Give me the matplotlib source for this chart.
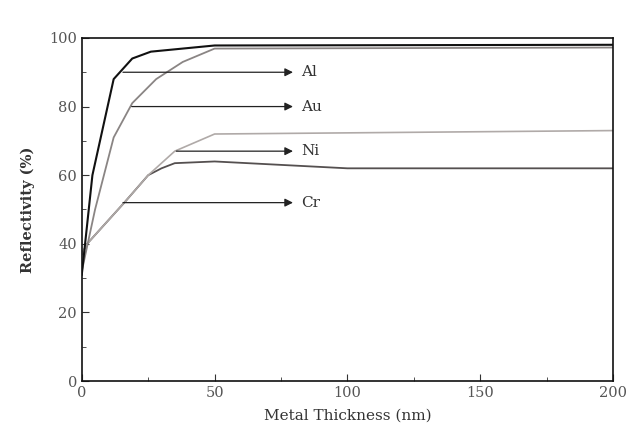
import matplotlib
matplotlib.use('Agg')
import matplotlib.pyplot as plt
from matplotlib.ticker import MultipleLocator

plt.rcParams['font.family'] = 'DejaVu Serif'

# thickness (nm) / reflectivity (%)
al_x = [0, 4, 12, 19, 26, 50, 200]
al_y = [31, 60, 88, 94, 96, 97.8, 98]
au_x = [0, 5, 12, 19, 28, 38, 50, 200]
au_y = [32, 50, 71, 81, 88, 93, 96.9, 97.2]
ni_x = [0, 2, 16, 25, 35, 50, 200]
ni_y = [37, 40, 52, 60, 67, 72, 73]
cr_x = [0, 2, 16, 25, 30, 35, 50, 100, 200]
cr_y = [37, 40, 52, 60, 62, 63.5, 64, 62, 62]

labels = ['Al', 'Au', 'Ni', 'Cr']
arrow_start = [(15.5, 90), (18.8, 80), (35.6, 67), (15.5, 52)]
arrow_end = 79.5

fig = plt.figure(figsize=(6.34, 4.36), dpi=100)
ax = fig.add_axes([0.129, 0.126, 0.838, 0.787])

ax.plot(cr_x, cr_y, color='#555050', lw=1.3)
ax.plot(ni_x, ni_y, color='#b0aaa8', lw=1.2)
ax.plot(au_x, au_y, color='#8a8584', lw=1.3)
ax.plot(al_x, al_y, color='#111111', lw=1.5)

for lab, (x0, y0) in zip(labels, arrow_start):
    ax.annotate('', xy=(arrow_end, y0), xytext=(x0, y0),
                arrowprops=dict(arrowstyle='-|>', color='#222222', lw=0.9,
                                mutation_scale=12, shrinkA=0, shrinkB=0))
    ax.text(arrow_end + 3, y0, lab, fontsize=11, va='center', ha='left', color='#333333')

ax.set_xlim(0, 200)
ax.set_ylim(0, 100)
ax.xaxis.set_major_locator(MultipleLocator(50))
ax.xaxis.set_minor_locator(MultipleLocator(25))
ax.yaxis.set_major_locator(MultipleLocator(20))
ax.yaxis.set_minor_locator(MultipleLocator(10))
ax.tick_params(which='both', direction='in', labelsize=10.5, color='#333333')
ax.tick_params(which='major', length=5)
ax.tick_params(which='minor', length=3)
ax.tick_params(axis='both', colors='#333333', labelcolor='#555555')
for s in ax.spines.values():
    s.set_linewidth(1.2)
    s.set_color('#111111')

ax.set_xlabel('Metal Thickness (nm)', fontsize=11, color='#333333', labelpad=6)
ax.set_ylabel('Reflectivity (%)', fontsize=10.5, fontweight='bold', color='#333333', labelpad=10)

fig.savefig('out.png', dpi=100)
